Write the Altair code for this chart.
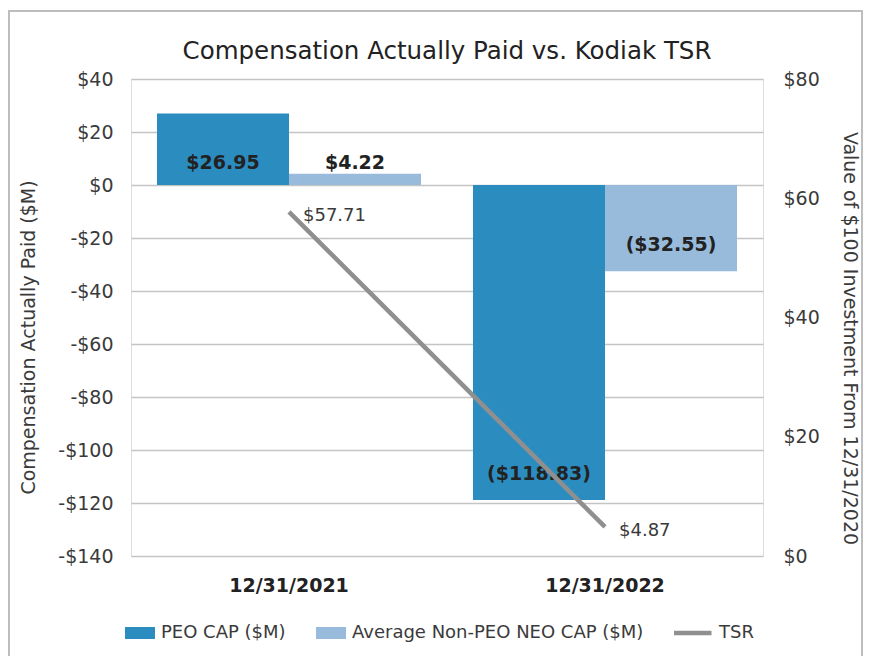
import altair as alt
import pandas as pd

dates = ["12/31/2021", "12/31/2022"]
series = ["PEO CAP ($M)", "Average Non-PEO NEO CAP ($M)"]
peo_cap = [26.95, -118.83]
neo_cap = [4.22, -32.55]
tsr = [57.71, 4.87]
legend_names = ["PEO CAP ($M)", "Average Non-PEO NEO CAP ($M)", "TSR"]

FONT = "DejaVu Sans"
TXT = "#3a3a3a"

bars_df = pd.DataFrame({
    "date": dates * 2,
    "series": [series[0]] * 2 + [series[1]] * 2,
    "value": peo_cap + neo_cap,
})
line_df = pd.DataFrame({"date": dates, "tsr": tsr})
legend_df = pd.DataFrame({"name": legend_names})

x_scale = alt.Scale(domain=dates, paddingInner=0.1646, paddingOuter=0.0823)
x_axis = alt.Axis(title=None, labelFont=FONT, labelFontSize=19, labelFontWeight="bold",
                  labelColor="#222222", labelPadding=20, domain=False, ticks=False, labelAngle=0)

def xenc():
    return alt.X("date:N", scale=x_scale, axis=x_axis)

xoff = alt.XOffset("series:N", sort=series, scale=alt.Scale(paddingInner=0, paddingOuter=0))

left_axis = alt.Axis(
    orient="left", values=list(range(-140, 41, 20)),
    labelExpr="datum.value < 0 ? '-$' + abs(datum.value) : '$' + datum.value",
    labelFont=FONT, labelFontSize=19, labelColor=TXT, labelPadding=18,
    grid=True, gridColor="#c4c4c4", gridWidth=1.5, domain=False, ticks=False,
    title="Compensation Actually Paid ($M)", titleFont=FONT, titleFontSize=19,
    titleFontWeight="normal", titleColor=TXT, titlePadding=19, titleY=258,
)
right_axis = alt.Axis(
    orient="right", values=[0, 20, 40, 60, 80],
    labelExpr="'$' + datum.value",
    labelFont=FONT, labelFontSize=19, labelColor=TXT, labelPadding=20,
    grid=False, domain=False, ticks=False,
    title="Value of $100 Investment From 12/31/2020", titleFont=FONT, titleFontSize=19,
    titleFontWeight="normal", titleColor=TXT, titlePadding=20, titleY=259,
)

bar_y = alt.Y("value:Q", scale=alt.Scale(domain=[-140, 40], nice=False, zero=False), axis=left_axis)

bars = alt.Chart(bars_df).mark_bar().encode(
    x=xenc(), xOffset=xoff, y=bar_y,
    color=alt.Color("series:N", scale=alt.Scale(domain=series, range=["#2b8cc0", "#98bbdc"]), legend=None),
)

bar_text = alt.Chart(bars_df).transform_calculate(
    label="datum.value < 0 ? '($' + format(abs(datum.value), '.2f') + ')' : '$' + format(datum.value, '.2f')",
    ly="datum.value < 0 ? datum.value + 9.8 : 8.3",
).mark_text(font=FONT, fontSize=19, fontWeight="bold", color="#222222", baseline="middle").encode(
    x=xenc(), xOffset=xoff,
    y=alt.Y("ly:Q", scale=alt.Scale(domain=[-140, 40], nice=False, zero=False), axis=left_axis),
    text="label:N",
)

line_y = alt.Y("tsr:Q", scale=alt.Scale(domain=[0, 80], nice=False), axis=right_axis)
line = alt.Chart(line_df).mark_line(strokeWidth=4.5, color="#8f8f8f").encode(x=xenc(), y=line_y)
line_text = alt.Chart(line_df).transform_calculate(
    label="'$' + format(datum.tsr, '.2f')"
).mark_text(font=FONT, fontSize=18, color=TXT, align="left", dx=14, dy=4).encode(
    x=xenc(), y=line_y, text="label:N"
)

def make_legend():
    return alt.Legend(title=None, orient="none", legendX=-6, legendY=539, direction="horizontal",
                      labelFont=FONT, labelFontSize=18, labelColor=TXT, symbolSize=900,
                      symbolStrokeWidth=0, symbolOpacity=1, labelOffset=6, columnPadding=30,
                      padding=0, labelLimit=500)

legend_layer = alt.Chart(legend_df).transform_filter("datum.name == 'none'").mark_point(filled=True, opacity=1).encode(
    color=alt.Color("name:N", scale=alt.Scale(domain=legend_names, range=["#2b8cc0", "#98bbdc", "#8f8f8f"]),
                    legend=make_legend()),
    shape=alt.Shape("name:N", scale=alt.Scale(domain=legend_names, range=[
        "M-1,-0.4H1V0.4H-1Z", "M-1,-0.4H1V0.4H-1Z", "M-1.6,-0.15H0.9V0.15H-1.6Z"]),
        legend=make_legend()),
)

frame = alt.Chart(pd.DataFrame({"a": [1]})).mark_rect(fill=None, stroke="#bdbdbd", strokeWidth=2, clip=False).encode(
    x=alt.value(-122), x2=alt.value(731), y=alt.value(-68), y2=alt.value(640),
)

chart = alt.layer(
    frame,
    alt.layer(bars, bar_text),
    alt.layer(line, line_text),
    legend_layer,
).resolve_scale(y="independent", color="independent", shape="independent").properties(
    width=632, height=477,
    title=alt.TitleParams("Compensation Actually Paid vs. Kodiak TSR", font=FONT, fontSize=24.5,
                          fontWeight="normal", color="#222222", offset=0, dy=54, anchor="middle",
                          frame="group"),
    autosize=alt.AutoSizeParams(type="none"),
    padding={"left": 123, "top": 71, "right": 100, "bottom": 100},
).configure_view(stroke=None).configure(background="white")

chart.save("out.html", embed_options={"renderer": "svg", "actions": False})
